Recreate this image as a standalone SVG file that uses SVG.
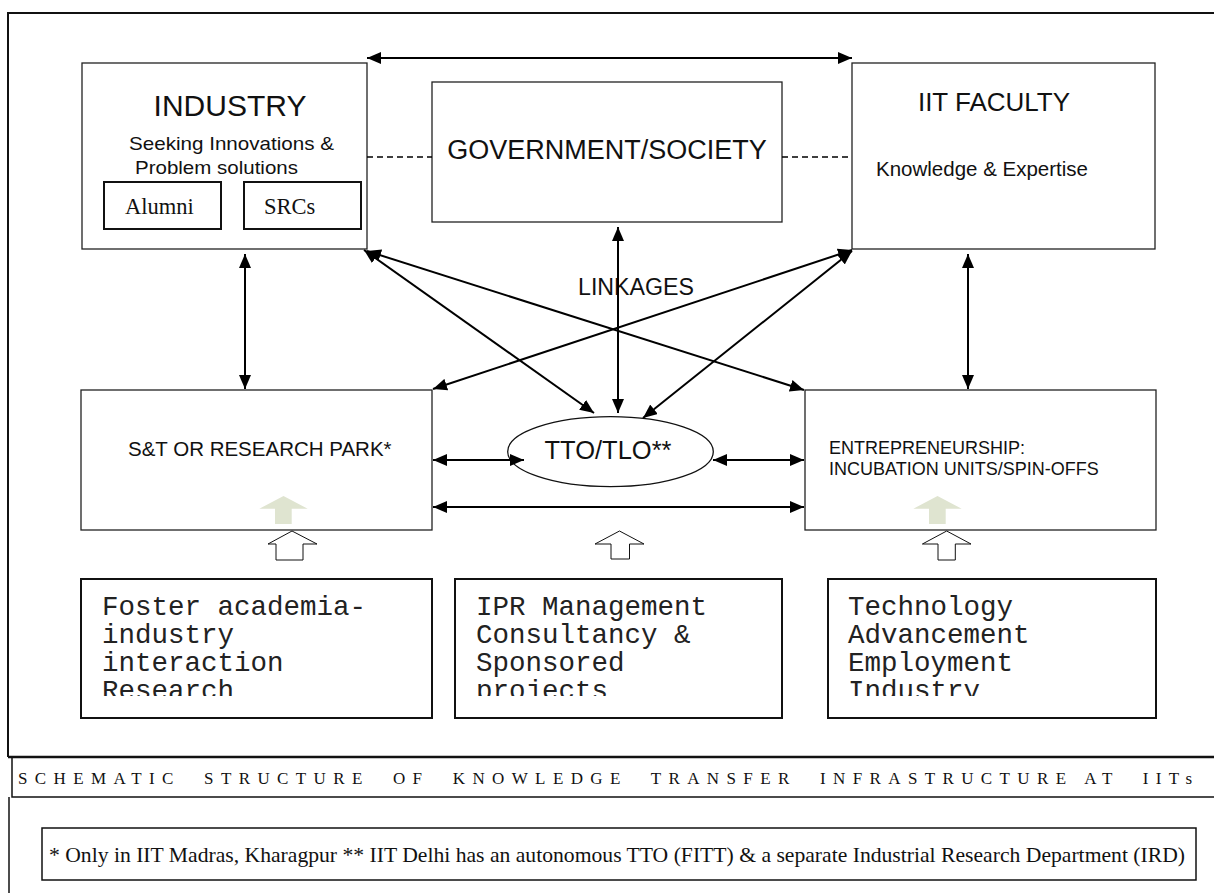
<svg xmlns="http://www.w3.org/2000/svg" width="1214" height="893" viewBox="0 0 1214 893">
<style>
.box{fill:#fff;stroke:#222;stroke-width:1.3}
.bbox{fill:#fff;stroke:#111;stroke-width:2}
.sans{font-family:"Liberation Sans",Arial,sans-serif;fill:#111}
.serif{font-family:"Liberation Serif","Times New Roman",serif;fill:#111}
.mono{font-family:"Liberation Mono","Courier New",monospace;fill:#222;font-size:27.5px}
.conn{stroke:#000;stroke-width:2;fill:none;marker-start:url(#ah);marker-end:url(#ah)}
.dash{stroke:#000;stroke-width:1.4;stroke-dasharray:6 4;fill:none}
.hollow{fill:#fff;stroke:#111;stroke-width:1}
.green{fill:#dfe4d0;stroke:none}
</style>
<defs>
<marker id="ah" markerUnits="userSpaceOnUse" markerWidth="14" markerHeight="12" refX="14" refY="6" orient="auto-start-reverse">
<path d="M0,0 L14,6 L0,12 z" fill="#000"/>
</marker>
<clipPath id="c1"><rect x="81" y="579" width="351" height="117"/></clipPath>
<clipPath id="c2"><rect x="455" y="579" width="327" height="117"/></clipPath>
<clipPath id="c3"><rect x="828" y="579" width="328" height="117"/></clipPath>
</defs>
<rect width="1214" height="893" fill="#fff"/>
<g id="frame" fill="none" stroke="#111">
<path d="M8,757 L8,13 L1216,13" stroke-width="2"/>
<line x1="8" y1="757" x2="1216" y2="757" stroke-width="2.5"/>
<path d="M1216,797 L12,797 L12,757" stroke-width="1.5"/>
<line x1="9" y1="797" x2="9" y2="895" stroke-width="1.5"/>
</g>
<g id="industry">
<rect class="box" x="82" y="63" width="285" height="186"/>
<text class="sans" x="230" y="116" font-size="30" text-anchor="middle">INDUSTRY</text>
<text class="sans" x="129" y="150" font-size="19" textLength="205" lengthAdjust="spacingAndGlyphs">Seeking Innovations &amp;</text>
<text class="sans" x="135" y="174" font-size="19" textLength="163" lengthAdjust="spacingAndGlyphs">Problem solutions</text>
</g>
<g id="alumni">
<rect x="104" y="182" width="117" height="47" fill="#fff" stroke="#111" stroke-width="2"/>
<text class="serif" x="125" y="214" font-size="22.5">Alumni</text>
</g>
<g id="srcs">
<rect x="244" y="182" width="117" height="47" fill="#fff" stroke="#111" stroke-width="2"/>
<text class="serif" x="264" y="214" font-size="22.5">SRCs</text>
</g>
<g id="government">
<rect class="box" x="432" y="82" width="350" height="140"/>
<text class="sans" x="607" y="159" font-size="27" text-anchor="middle">GOVERNMENT/SOCIETY</text>
</g>
<g id="faculty">
<rect class="box" x="852" y="63" width="303" height="186"/>
<text class="sans" x="994" y="111" font-size="26" text-anchor="middle">IIT FACULTY</text>
<text class="sans" x="876" y="176" font-size="20.5">Knowledge &amp; Expertise</text>
</g>
<g id="park">
<rect class="box" x="81" y="390" width="351" height="140"/>
<text class="sans" x="128" y="456" font-size="20.5">S&amp;T OR RESEARCH PARK*</text>
<polygon class="green" points="283.5,496 307.7,508.7 291.7,508.7 291.7,524 275,524 275,508.7 259.3,508.7"/>
</g>
<g id="entrepreneurship">
<rect class="box" x="805" y="390" width="351" height="140"/>
<text class="sans" x="829" y="454" font-size="18">ENTREPRENEURSHIP:</text>
<text class="sans" x="829" y="475" font-size="18">INCUBATION UNITS/SPIN-OFFS</text>
<polygon class="green" points="937.5,496 961.7,508.7 945.7,508.7 945.7,524 929,524 929,508.7 913.3,508.7"/>
</g>
<g id="tto">
<ellipse cx="610.5" cy="451.7" rx="102.8" ry="35" fill="#fff" stroke="#111" stroke-width="1.3"/>
<text class="sans" x="608" y="459" font-size="25.5" text-anchor="middle">TTO/TLO**</text>
</g>
<g id="box-foster">
<rect class="bbox" x="81" y="579" width="351" height="139"/>
<g clip-path="url(#c1)">
<text class="mono" x="102" y="615">Foster academia-</text>
<text class="mono" x="102" y="643">industry</text>
<text class="mono" x="102" y="671">interaction</text>
<text class="mono" x="102" y="699">Research</text>
</g>
</g>
<g id="box-ipr">
<rect class="bbox" x="455" y="579" width="327" height="139"/>
<g clip-path="url(#c2)">
<text class="mono" x="476" y="615">IPR Management</text>
<text class="mono" x="476" y="643">Consultancy &amp;</text>
<text class="mono" x="476" y="671">Sponsored</text>
<text class="mono" x="476" y="699">projects</text>
</g>
</g>
<g id="box-tech">
<rect class="bbox" x="828" y="579" width="328" height="139"/>
<g clip-path="url(#c3)">
<text class="mono" x="848" y="615">Technology</text>
<text class="mono" x="848" y="643">Advancement</text>
<text class="mono" x="848" y="671">Employment</text>
<text class="mono" x="848" y="699">Industry</text>
</g>
</g>
<g id="hollow-arrows">
<polygon class="hollow" points="292,531 317,544 303,544 303,560 276,560 276,544 268,544"/>
<polygon class="hollow" points="619.5,531 644,544 629.5,544 629.5,559 611,559 611,544 595,544"/>
<polygon class="hollow" points="946.7,531 971,544 955.3,544 955.3,560 938,560 938,544 922.4,544"/>
</g>
<g id="label-linkages">
<text class="sans" x="578" y="295" font-size="23" textLength="116" lengthAdjust="spacingAndGlyphs">LINKAGES</text>
</g>
<g id="connectors">
<line class="conn" x1="367" y1="58" x2="852" y2="58"/>
<line class="dash" x1="367" y1="157" x2="432" y2="157"/>
<line class="dash" x1="782" y1="157" x2="852" y2="157"/>
<line class="conn" x1="618" y1="227" x2="618" y2="413"/>
<line class="conn" x1="245" y1="254" x2="245" y2="389"/>
<line class="conn" x1="968" y1="254" x2="968" y2="389"/>
<line class="conn" x1="364" y1="250" x2="594" y2="413"/>
<line class="conn" x1="367" y1="251" x2="804" y2="390"/>
<line class="conn" x1="852" y1="250" x2="433" y2="389"/>
<line class="conn" x1="852" y1="251" x2="643" y2="418"/>
<line class="conn" x1="433" y1="460" x2="524" y2="460"/>
<line class="conn" x1="713" y1="460" x2="804" y2="460"/>
<line class="conn" x1="433" y1="507" x2="804" y2="507"/>
</g>
<g id="caption">
<text class="serif" x="18" y="784" font-size="17" textLength="1174" lengthAdjust="spacing" style="white-space:pre">SCHEMATIC  STRUCTURE  OF  KNOWLEDGE  TRANSFER  INFRASTRUCTURE AT  IITs</text>
</g>
<g id="footnote">
<rect x="42" y="828" width="1154" height="52" fill="#fff" stroke="#111" stroke-width="1.5"/>
<text class="serif" x="49" y="862" font-size="21" textLength="1136" lengthAdjust="spacingAndGlyphs">* Only in IIT Madras, Kharagpur ** IIT Delhi has an autonomous TTO (FITT) &amp; a separate Industrial Research Department (IRD)</text>
</g>
</svg>
